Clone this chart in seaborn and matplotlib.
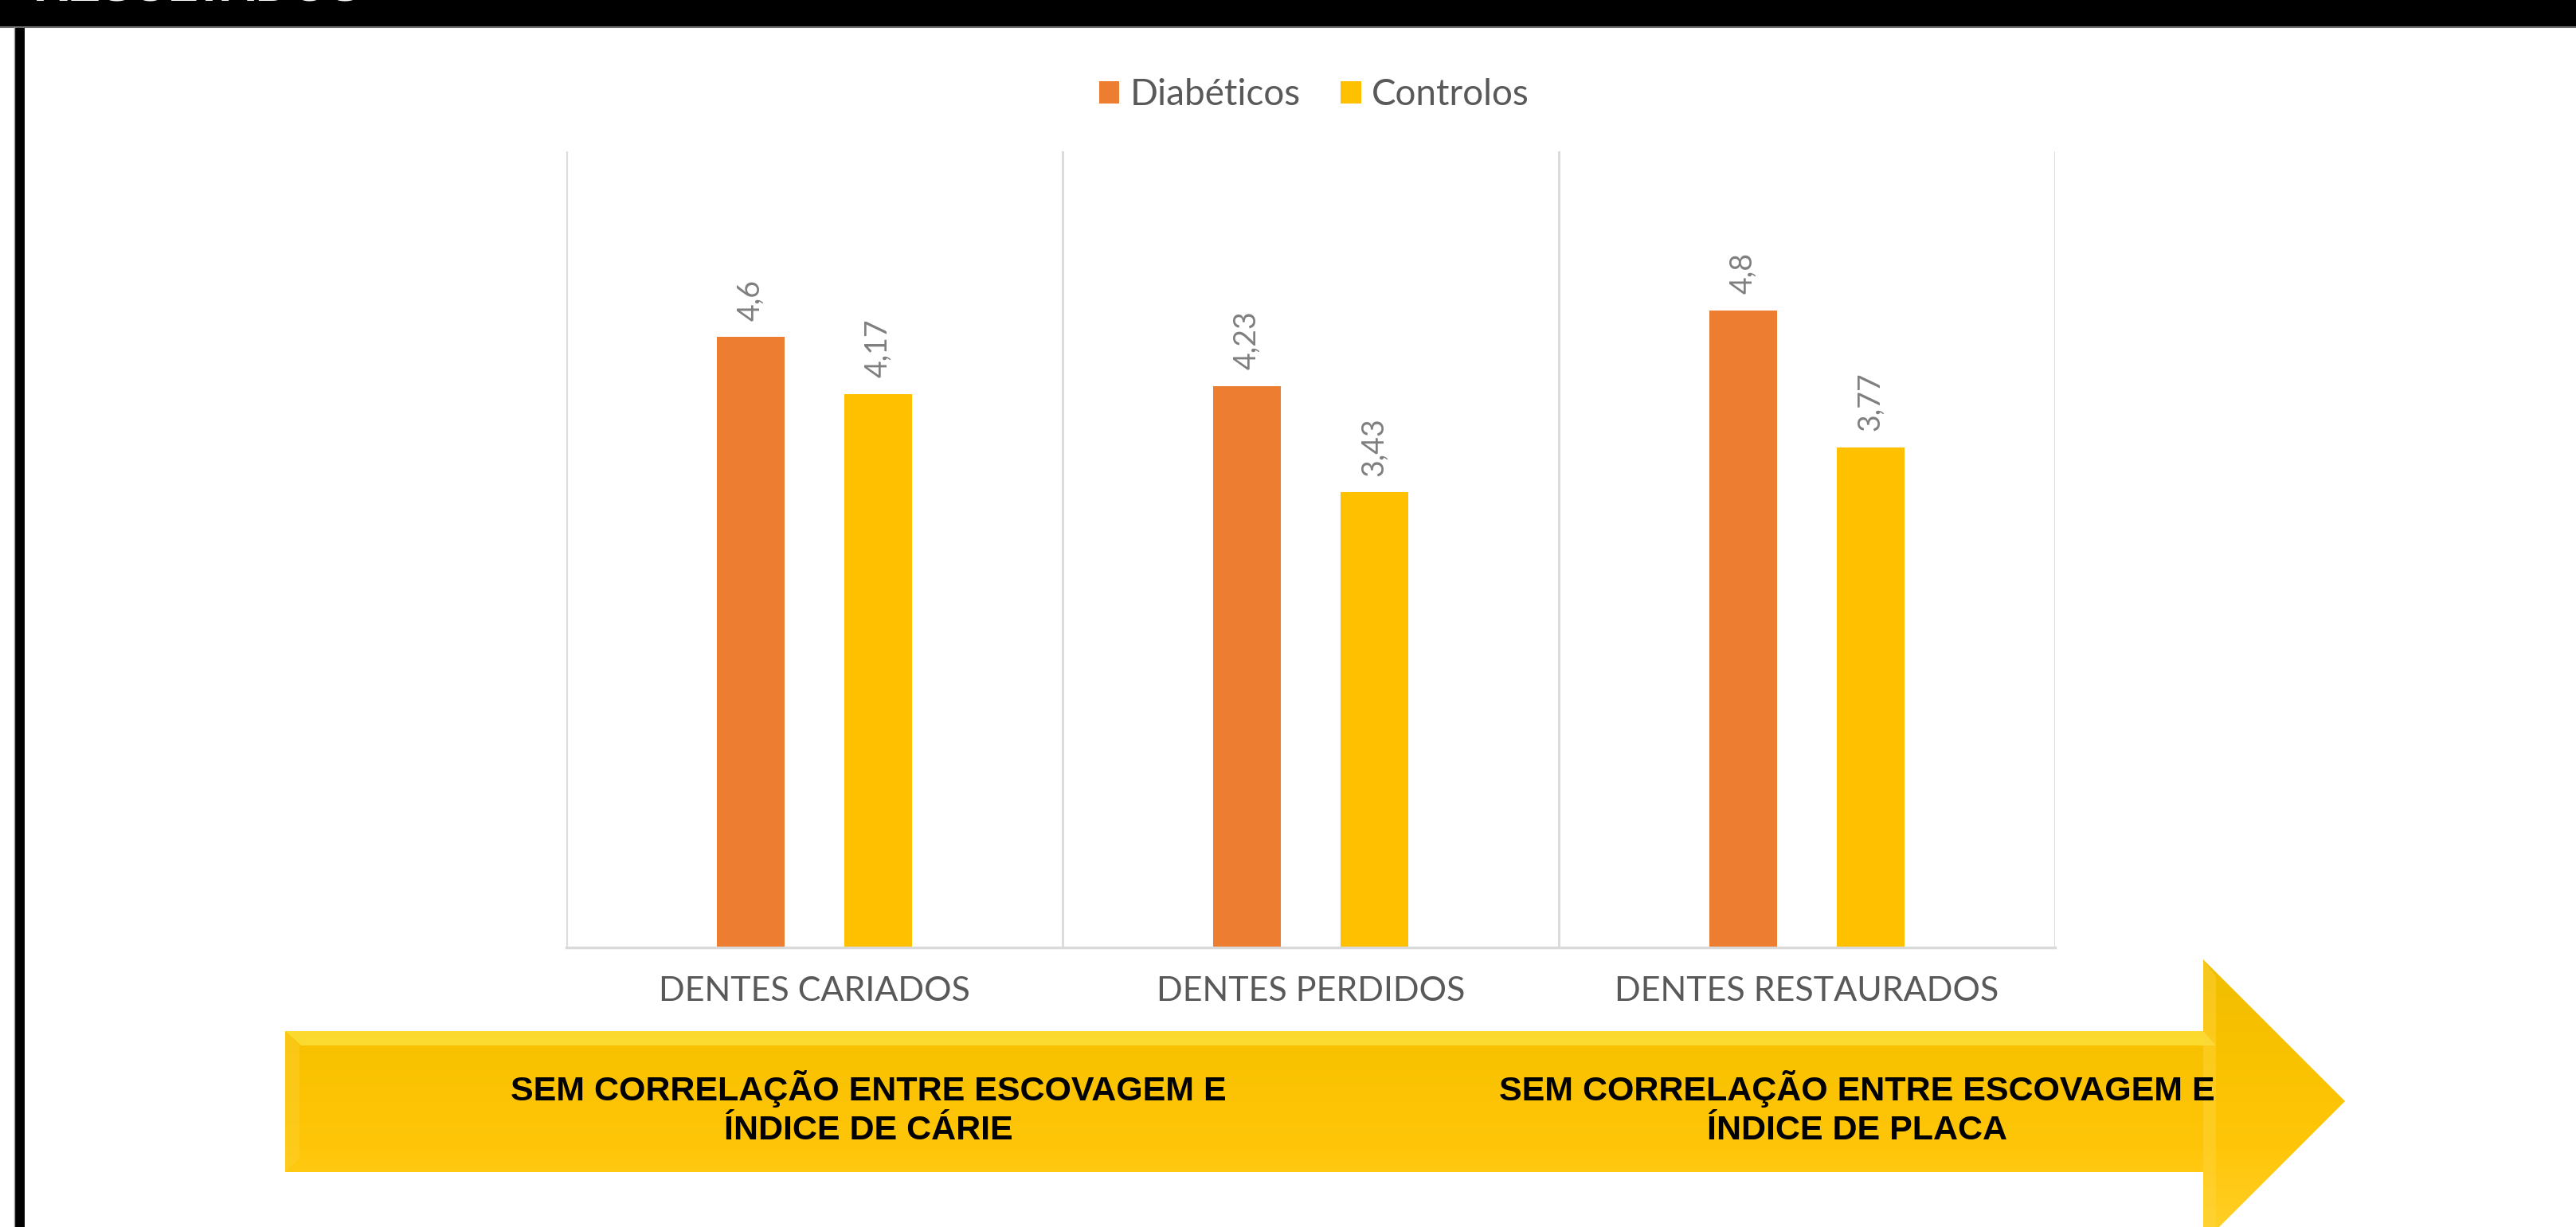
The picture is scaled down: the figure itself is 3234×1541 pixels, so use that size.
import numpy as np
import pandas as pd
import matplotlib
matplotlib.use("Agg")
import matplotlib.pyplot as plt
import seaborn as sns
from matplotlib.patches import Polygon, Rectangle

# ---------------- data ----------------
categorias = ["DENTES CARIADOS", "DENTES PERDIDOS", "DENTES RESTAURADOS"]
diabeticos = [4.6, 4.23, 4.8]
controlos = [4.17, 3.43, 3.77]
series_nomes = ["Diabéticos", "Controlos"]
cores = ["#ED7D31", "#FFC000"]
titulo = "RESULTADOS"
texto_esq = "SEM CORRELAÇÃO ENTRE ESCOVAGEM E\nÍNDICE DE CÁRIE"
texto_dir = "SEM CORRELAÇÃO ENTRE ESCOVAGEM E\nÍNDICE DE PLACA"

df = pd.DataFrame({
    "categoria": categorias * 2,
    "grupo": [series_nomes[0]] * 3 + [series_nomes[1]] * 3,
    "valor": diabeticos + controlos,
})

sns.set_theme(style="white")
plt.rcParams["font.family"] = ["Lato", "DejaVu Sans"]

W, H = 3234, 1541
fig = plt.figure(figsize=(W / 100, H / 100), dpi=100)
fig.patch.set_facecolor("white")

ax = fig.add_axes([711 / W, 1 - 1190 / H, (2580 - 711) / W, (1190 - 190) / H])
sns.barplot(data=df, x="categoria", y="valor", hue="grupo", palette=cores,
            width=0.514, gap=0.467, linewidth=0, saturation=1, ax=ax,
            order=categorias, hue_order=series_nomes)

ax.set_xlim(-0.5, 2.5)
ax.set_ylim(0, 6)
for x in [-0.5, 0.5, 1.5, 2.5]:
    ax.axvline(x, color="#D9D9D9", lw=2, zorder=0)
for s in ["top", "right", "left"]:
    ax.spines[s].set_visible(False)
ax.spines["bottom"].set_color("#D9D9D9")
ax.spines["bottom"].set_linewidth(2.5)
ax.set_yticks([])
ax.set_xlabel("")
ax.set_ylabel("")
ax.tick_params(axis="x", length=0, pad=26, labelsize=31, labelcolor="#595959")

for cont in ax.containers:
    labs = [f"{b.get_height():g}".replace(".", ",") for b in cont]
    ax.bar_label(cont, labels=labs, rotation=90, padding=15, fontsize=27,
                 color="#7F7F7F")

sns.move_legend(ax, "center", bbox_to_anchor=(1650 / W, 1 - 119 / H),
                bbox_transform=fig.transFigure, ncol=2, frameon=False,
                title=None, fontsize=33, handlelength=0.55, handleheight=0.55,
                handletextpad=0.3, columnspacing=1.1)
for t in ax.get_legend().get_texts():
    t.set_color("#595959")

# ---------------- overlay (border, title, arrow) ----------------
ov = fig.add_axes([0, 0, 1, 1])
ov.set_xlim(0, W)
ov.set_ylim(H, 0)
ov.axis("off")
ov.patch.set_visible(False)

ov.add_patch(Rectangle((0, 0), W, 34, facecolor="black", edgecolor="none"))
ov.plot([0, W], [34, 34], color="#6b6b6b", lw=1.5)
ov.add_patch(Rectangle((18, 34), 13, H - 34, facecolor="black", edgecolor="none"))
ov.plot([18, 18], [34, H], color="#9a9a9a", lw=1)
fig.text(42 / W, 1 - 2 / H, titulo, color="white", fontsize=44, fontweight="bold",
         family=["Liberation Sans", "DejaVu Sans"], ha="left", va="baseline")

# arrow
pts = [(358, 1295), (2766, 1295), (2766, 1205), (2944, 1383),
       (2766, 1561), (2766, 1472), (358, 1472)]
poly = Polygon(pts, closed=True, facecolor="none", edgecolor="none")
ov.add_patch(poly)
grad = np.linspace(0, 1, 256).reshape(-1, 1)
cmap = matplotlib.colors.LinearSegmentedColormap.from_list(
    "arr", ["#FFD12C", "#FFC609", "#F9C200", "#F0BD00"])
im = ov.imshow(grad, extent=[358, 2944, 1561, 1205], cmap=cmap, aspect="auto",
               origin="lower", zorder=1)
im.set_clip_path(poly)
# bevel highlights
ov.add_patch(Polygon([(358, 1295), (2766, 1295), (2782, 1313), (378, 1313)],
                     closed=True, facecolor="#FFEB50", edgecolor="none", alpha=0.6, zorder=2))
ov.add_patch(Polygon([(358, 1295), (376, 1313), (376, 1455), (358, 1472)],
                     closed=True, facecolor="#FFD236", edgecolor="none", alpha=0.4, zorder=2))
ov.add_patch(Polygon([(2766, 1205), (2782, 1226), (2782, 1561), (2766, 1561)],
                     closed=True, facecolor="#FFD640", edgecolor="none", alpha=0.45, zorder=2))

for cx, txt in [(1090, texto_esq), (2331, texto_dir)]:
    ov.text(cx, 1392, txt, ha="center", va="center", multialignment="center",
            fontsize=31, fontweight="bold", color="black", linespacing=1.28,
            family=["Liberation Sans", "DejaVu Sans"], zorder=3)

fig.savefig("out.png", dpi=100)
